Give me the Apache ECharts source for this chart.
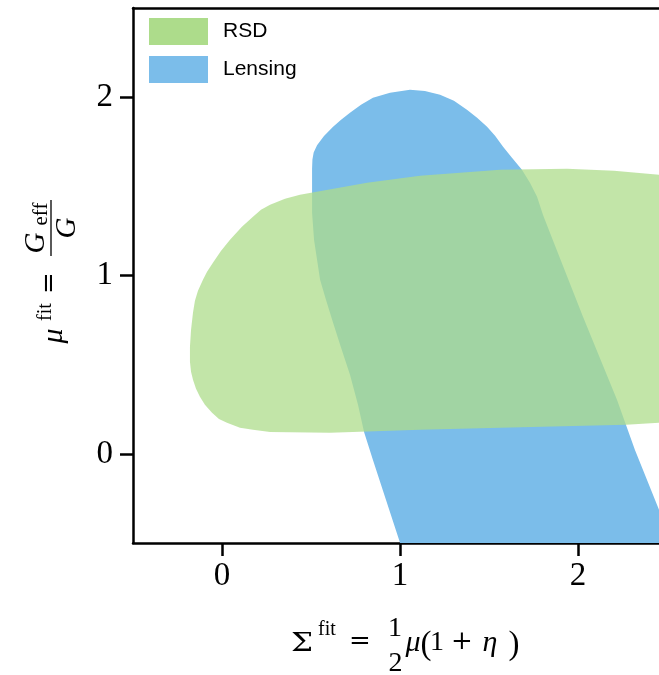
<!DOCTYPE html>
<html><head><meta charset="utf-8">
<script src="https://cdn.jsdelivr.net/npm/echarts@6/dist/echarts.min.js"></script>
<style>html,body{margin:0;padding:0;background:#fff}#c{width:659px;height:675px}</style>
</head><body><div id="c"></div>
<script>
// ---- data ----
const xTicks = [0, 1, 2];
const yTicks = [0, 1, 2];
const seriesNames = ['RSD', 'Lensing'];
// contour outlines [Sigma, mu]
const lensingContour = [[1.02,-0.56],[1.000,-0.499],[0.921,-0.258],[0.848,-0.034],[0.798,0.123],[0.764,0.275],[0.719,0.443],[0.669,0.595],[0.624,0.735],[0.584,0.864],[0.551,0.976],[0.534,1.088],[0.517,1.200],[0.506,1.352],[0.506,1.537],[0.506,1.600],[0.508,1.650],[0.515,1.690],[0.534,1.730],[0.573,1.782],[0.624,1.834],[0.669,1.873],[0.719,1.912],[0.781,1.957],[0.848,1.997],[0.944,2.025],[1.056,2.041],[1.140,2.035],[1.225,2.013],[1.303,1.980],[1.376,1.929],[1.433,1.884],[1.489,1.834],[1.534,1.783],[1.579,1.722],[1.629,1.660],[1.685,1.593],[1.730,1.520],[1.770,1.441],[1.803,1.340],[1.843,1.239],[2.028,0.768],[2.219,0.303],[2.320,0.022],[2.455,-0.314],[2.55,-0.56]];
const rsdContour = [[2.455,1.565],[2.202,1.587],[1.938,1.598],[1.562,1.593],[1.112,1.559],[0.815,1.520],[0.438,1.453],[0.354,1.430],[0.270,1.397],[0.219,1.368],[0.174,1.329],[0.112,1.273],[0.045,1.200],[-0.006,1.138],[-0.051,1.071],[-0.084,1.021],[-0.107,0.976],[-0.135,0.914],[-0.152,0.858],[-0.163,0.791],[-0.174,0.695],[-0.180,0.600],[-0.180,0.516],[-0.174,0.460],[-0.163,0.415],[-0.146,0.365],[-0.124,0.320],[-0.096,0.275],[-0.056,0.230],[-0.017,0.196],[0.028,0.174],[0.101,0.146],[0.174,0.135],[0.270,0.123],[0.607,0.118],[1.112,0.135],[1.562,0.146],[2.270,0.163],[2.455,0.174],[2.6,0.25],[2.7,0.5],[2.7,1.2],[2.6,1.5]];
const xMin = -0.5, xMax = 2.455, yMin = -0.5, yMax = 2.5;

const GREEN = '#ADDC8B', BLUE = '#7BBDEA';
const SERIF = 'Liberation Serif', SERIF2 = 'DejaVu Serif';

function polySeries(name, pts, color, opacity, z) {
  return {
    type: 'custom', name, coordinateSystem: 'cartesian2d', clip: true, z,
    silent: true, animation: false,
    itemStyle: { color },
    data: [pts[0]], encode: { x: 0, y: 1 },
    renderItem: (params, api) => ({
      type: 'polygon',
      shape: { points: pts.map(p => api.coord(p)) },
      style: { fill: color, opacity }
    })
  };
}

function txt(x, y, text, size, o = {}) {
  return {
    type: 'text', x, y, rotation: o.rot || 0, scaleX: o.sx || 1, z: 100,
    style: {
      text, fill: '#000', fontSize: size, fontFamily: o.font || SERIF,
      fontStyle: o.italic ? 'italic' : 'normal',
      align: o.align || 'center', verticalAlign: 'middle'
    }
  };
}
const R = Math.PI / 2;
const titleGraphics = [
  // x-axis title: Σ^fit = 1/2 μ(1 + η)
  txt(302, 644, 'Σ', 26, { font: SERIF2, sx: 1.2 }),
  txt(318, 630, 'fit', 20, { align: 'left' }),
  txt(360, 642, '=', 26, { font: SERIF2 }),
  txt(395, 629, '1', 28),
  txt(395.5, 664, '2', 28),
  txt(413, 643, 'μ', 30, { italic: true }),
  txt(426, 645, '(', 33),
  txt(437, 643, '1', 28),
  txt(462, 642, '+', 26, { font: SERIF2 }),
  txt(490, 643, 'η', 30, { italic: true }),
  txt(514, 645, ')', 33),
  // y-axis title: μ^fit = G_eff / G (rotated)
  txt(54, 336, 'μ', 30, { italic: true, rot: R }),
  txt(46, 312, 'fit', 20, { rot: R }),
  txt(50, 283, '=', 26, { font: SERIF2, rot: R }),
  txt(36, 243, 'G', 29, { italic: true, rot: R }),
  txt(41, 214, 'eff', 21, { rot: R }),
  { type: 'line', z: 100, shape: { x1: 51, y1: 200, x2: 51, y2: 256 }, style: { stroke: '#000', lineWidth: 1.3 } },
  txt(67, 228, 'G', 29, { italic: true, rot: R })
];

const axisLine = { show: true, onZero: false, lineStyle: { color: '#000', width: 2.5 } };
const chart = echarts.init(document.getElementById('c'), null, { renderer: 'canvas' });
chart.setOption({
  animation: false,
  backgroundColor: '#fff',
  grid: { left: 133, top: 8, right: 0, bottom: 132, containLabel: false },
  legend: {
    left: 149, top: 18, padding: 0, orient: 'vertical', icon: 'rect',
    itemWidth: 59, itemHeight: 27, itemGap: 11,
    textStyle: { fontFamily: 'Liberation Sans', fontSize: 21, color: '#000', padding: [0, 0, 0, 10] },
    data: [
      { name: seriesNames[0], itemStyle: { color: GREEN, opacity: 1 } },
      { name: seriesNames[1], itemStyle: { color: BLUE, opacity: 1 } }
    ],
    selectedMode: false
  },
  xAxis: [{
    type: 'value', min: xMin, max: xMax,
    axisLine,
    axisTick: { show: true, length: 13, lineStyle: { color: '#000', width: 2.5 }, customValues: xTicks },
    axisLabel: { show: true, margin: 17, fontFamily: SERIF, fontSize: 33, color: '#000', customValues: xTicks },
    splitLine: { show: false }
  }, {
    type: 'value', min: xMin, max: xMax, position: 'top',
    axisLine, axisTick: { show: false }, axisLabel: { show: false }, splitLine: { show: false }
  }],
  yAxis: {
    type: 'value', min: yMin, max: yMax,
    axisLine,
    axisTick: { show: true, length: 13, lineStyle: { color: '#000', width: 2.5 }, customValues: yTicks },
    axisLabel: { show: true, margin: 20, fontFamily: SERIF, fontSize: 33, color: '#000', customValues: yTicks },
    splitLine: { show: false }
  },
  graphic: titleGraphics,
  series: [
    polySeries(seriesNames[1], lensingContour, BLUE, 1, 2),
    polySeries(seriesNames[0], rsdContour, GREEN, 0.75, 3)
  ]
});
</script>
</body></html>
